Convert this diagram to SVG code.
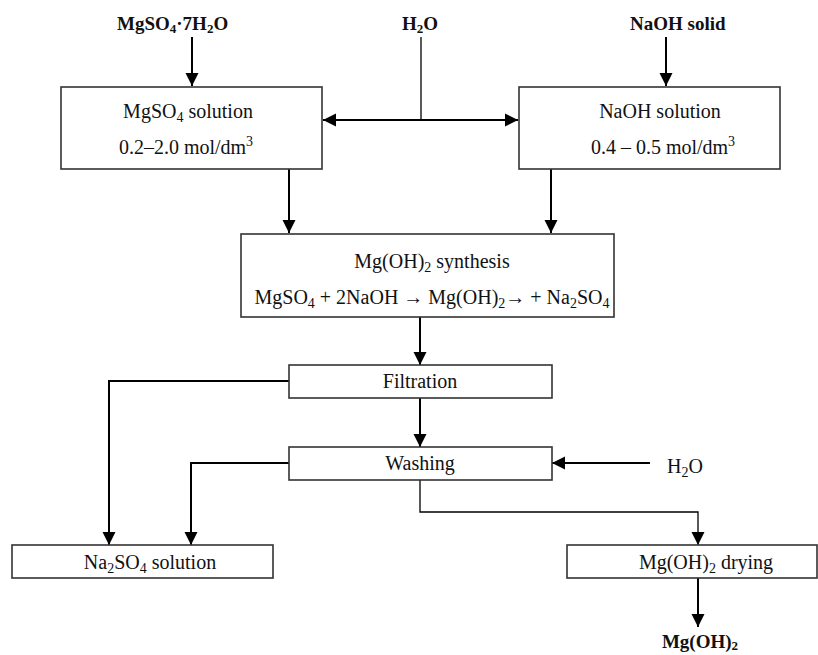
<svg xmlns="http://www.w3.org/2000/svg" width="818" height="655" viewBox="0 0 818 655">
<style>
text{font-family:"Liberation Serif","Times New Roman",serif;font-size:20px;fill:#111}
.b{font-weight:bold;font-size:19px}
.box{fill:#fff;stroke:#333;stroke-width:1.6}
.c{fill:none;stroke:#000;stroke-width:2}
.t{fill:none;stroke:#000;stroke-width:1.3}
.s{font-size:14px}
.bs{font-size:13px}
</style>
<defs>
<marker id="ah" markerUnits="userSpaceOnUse" markerWidth="14" markerHeight="14" viewBox="0 0 14 14" refX="13" refY="7" orient="auto">
<path d="M0,0.5 L13,7 L0,13.5 z" fill="#000"/>
</marker>
</defs>
<rect width="818" height="655" fill="#fff"/>

<g id="connectors">
<line class="c" x1="192" y1="37" x2="192" y2="86" marker-end="url(#ah)"/>
<line class="t" x1="421" y1="37" x2="421" y2="120"/>
<line class="c" x1="421" y1="120" x2="323" y2="120" marker-end="url(#ah)"/>
<line class="c" x1="421" y1="120" x2="518" y2="120" marker-end="url(#ah)"/>
<line class="c" x1="666" y1="37" x2="666" y2="86" marker-end="url(#ah)"/>
<line class="c" x1="289" y1="169" x2="289" y2="233" marker-end="url(#ah)"/>
<line class="c" x1="551" y1="169" x2="551" y2="233" marker-end="url(#ah)"/>
<line class="c" x1="420" y1="317" x2="420" y2="365" marker-end="url(#ah)"/>
<line class="c" x1="420" y1="398" x2="420" y2="447" marker-end="url(#ah)"/>
<polyline class="c" points="289,381 109,381 109,545" marker-end="url(#ah)"/>
<polyline class="c" points="289,463 191,463 191,545" marker-end="url(#ah)"/>
<line class="c" x1="650" y1="463" x2="552" y2="463" marker-end="url(#ah)"/>
<polyline class="t" points="420,480 420,512 698,512 698,545" marker-end="url(#ah)"/>
<line class="c" x1="698" y1="578" x2="698" y2="627" marker-end="url(#ah)"/>
</g>

<g id="in-mgso4"><text class="b" x="117" y="30">MgSO<tspan class="bs" dy="3">4</tspan><tspan dy="-3">·7H</tspan><tspan class="bs" dy="3">2</tspan><tspan dy="-3">O</tspan></text></g>
<g id="in-h2o"><text class="b" x="402" y="30">H<tspan class="bs" dy="3">2</tspan><tspan dy="-3">O</tspan></text></g>
<g id="in-naoh"><text class="b" x="630" y="30">NaOH solid</text></g>

<g id="mgso4-solution">
<rect class="box" x="61" y="87" width="261" height="82"/>
<text x="188" y="118" text-anchor="middle">MgSO<tspan class="s" dy="4">4</tspan><tspan dy="-4"> solution</tspan></text>
<text x="186" y="154" text-anchor="middle">0.2–2.0 mol/dm<tspan class="s" dy="-8">3</tspan></text>
</g>

<g id="naoh-solution">
<rect class="box" x="519" y="87" width="261" height="82"/>
<text x="660" y="118" text-anchor="middle">NaOH solution</text>
<text x="663" y="154" text-anchor="middle">0.4 – 0.5 mol/dm<tspan class="s" dy="-8">3</tspan></text>
</g>

<g id="synthesis">
<rect class="box" x="241" y="234" width="373" height="83"/>
<text x="432" y="268" text-anchor="middle">Mg(OH)<tspan class="s" dy="4">2</tspan><tspan dy="-4"> synthesis</tspan></text>
<text x="432" y="304" text-anchor="middle">MgSO<tspan class="s" dy="4">4</tspan><tspan dy="-4"> + 2NaOH → Mg(OH)</tspan><tspan class="s" dy="4">2</tspan><tspan dy="-4">→ + Na</tspan><tspan class="s" dy="4">2</tspan><tspan dy="-4">SO</tspan><tspan class="s" dy="4">4</tspan></text>
</g>

<g id="filtration">
<rect class="box" x="289" y="365" width="263" height="33"/>
<text x="420" y="388" text-anchor="middle">Filtration</text>
</g>

<g id="washing">
<rect class="box" x="289" y="447" width="263" height="33"/>
<text x="420" y="470" text-anchor="middle">Washing</text>
</g>

<g id="in-water">
<text x="667" y="473">H<tspan class="s" dy="4">2</tspan><tspan dy="-4">O</tspan></text>
</g>

<g id="na2so4-solution">
<rect class="box" x="12" y="545" width="261" height="33"/>
<text x="150" y="569" text-anchor="middle">Na<tspan class="s" dy="4">2</tspan><tspan dy="-4">SO</tspan><tspan class="s" dy="4">4</tspan><tspan dy="-4"> solution</tspan></text>
</g>

<g id="drying">
<rect class="box" x="567" y="545" width="250" height="33"/>
<text x="706" y="569" text-anchor="middle">Mg(OH)<tspan class="s" dy="4">2</tspan><tspan dy="-4"> drying</tspan></text>
</g>

<g id="product">
<text class="b" x="700" y="648" text-anchor="middle">Mg(OH)<tspan class="bs" dy="2">2</tspan></text>
</g>
</svg>
